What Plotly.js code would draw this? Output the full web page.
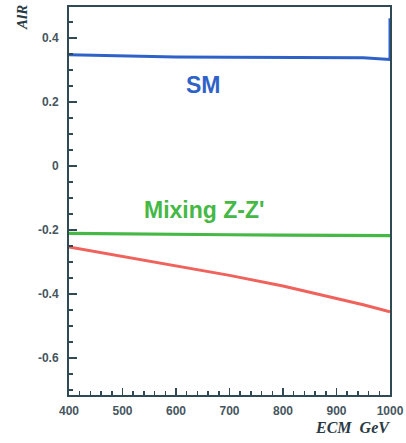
<!DOCTYPE html>
<html>
<head>
<meta charset="utf-8">
<script src="https://cdn.plot.ly/plotly-3.0.1.min.js"></script>
<style>html,body{margin:0;padding:0;background:#fff;}#chart{width:406px;height:443px;}</style>
</head>
<body>
<div id="chart"></div>
<script>
// Energy (GeV)
const ecm = [400, 500, 600, 700, 800, 900, 950, 1000];
// SM curve (last point is the vertical jump at the right edge)
const smX = [400, 500, 600, 700, 800, 900, 950, 1000, 1000];
const smY = [0.348, 0.344, 0.341, 0.340, 0.340, 0.340, 0.338, 0.333, 0.462];
// Mixing Z-Z'
const mixY = [-0.211, -0.213, -0.214, -0.215, -0.216, -0.217, -0.217, -0.218];
// Red curve
const redY = [-0.253, -0.283, -0.312, -0.342, -0.375, -0.413, -0.434, -0.456];

const xTicks = [400, 500, 600, 700, 800, 900, 1000];
const yTicks = [-0.6, -0.4, -0.2, 0, 0.2, 0.4];
const yTickText = ['-0.6', '-0.4', '-0.2', '0', '0.2', '0.4'];

const axisColor = '#2f4a52';
const tickFont = {family: 'Liberation Sans, Arial, sans-serif', size: 12, color: '#465660', weight: 700};

const traces = [
  {x: smX, y: smY, mode: 'lines', line: {color: '#2f62c8', width: 3}, hoverinfo: 'skip'},
  {x: ecm, y: mixY, mode: 'lines', line: {color: '#45b845', width: 3.2}, hoverinfo: 'skip'},
  {x: ecm, y: redY, mode: 'lines', line: {color: '#f0625c', width: 3}, hoverinfo: 'skip'}
];

const layout = {
  width: 406, height: 443,
  margin: {l: 69, r: 16, t: 7, b: 48},
  paper_bgcolor: '#ffffff', plot_bgcolor: '#ffffff',
  showlegend: false,
  xaxis: {
    range: [400, 1000], tickvals: xTicks, ticktext: xTicks.map(String),
    ticks: 'inside', ticklen: 7, tickwidth: 1.5, tickcolor: axisColor,
    minor: {dtick: 20, ticks: 'inside', ticklen: 4, tickwidth: 1.5, tickcolor: axisColor},
    showline: true, linecolor: axisColor, linewidth: 2, mirror: true,
    showgrid: false, zeroline: false, tickfont: tickFont, ticklabelstandoff: 4
  },
  yaxis: {
    range: [-0.716, 0.497], tickvals: yTicks, ticktext: yTickText,
    ticks: 'inside', ticklen: 8, tickwidth: 1.5, tickcolor: axisColor,
    minor: {dtick: 0.05, tick0: 0, ticks: 'inside', ticklen: 4, tickwidth: 1.5, tickcolor: axisColor},
    showline: true, linecolor: axisColor, linewidth: 2, mirror: true,
    showgrid: false, zeroline: false, tickfont: tickFont, ticklabelstandoff: 6
  },
  annotations: [
    {text: 'SM', x: 652, y: 0.254, xref: 'x', yref: 'y', showarrow: false,
     font: {family: 'Liberation Sans, Arial, sans-serif', size: 23, color: '#2f62c8', weight: 'bold'}},
    {text: "Mixing Z-Z'", x: 652, y: -0.138, xref: 'x', yref: 'y', showarrow: false,
     font: {family: 'Liberation Sans, Arial, sans-serif', size: 23, color: '#45b845', weight: 'bold'}},
    {text: '<b><i>AlR</i></b>', x: 22, y: 18, xref: 'paper', yref: 'paper', showarrow: false, textangle: -90,
     font: {family: 'Liberation Serif, Times New Roman, serif', size: 15, color: '#2a3a44'}},
    {text: '<b><i>ECM  GeV</i></b>', x: 1, xanchor: 'right', y: 428, xref: 'paper', yref: 'paper', showarrow: false,
     font: {family: 'Liberation Serif, Times New Roman, serif', size: 16, color: '#2a3a44'}}
  ]
};

// convert pixel-positioned paper annotations
const plotW = 406 - 69 - 16, plotH = 443 - 7 - 48;
layout.annotations[2].x = (22 - 69) / plotW;
layout.annotations[2].y = 1 - (18 - 7) / plotH;
layout.annotations[2].xanchor = 'center';
layout.annotations[2].yanchor = 'middle';
layout.annotations[3].x = (392 - 69) / plotW;
layout.annotations[3].y = 1 - (428 - 7) / plotH;
layout.annotations[3].yanchor = 'middle';

Plotly.newPlot('chart', traces, layout, {staticPlot: true, displayModeBar: false});
</script>
</body>
</html>
